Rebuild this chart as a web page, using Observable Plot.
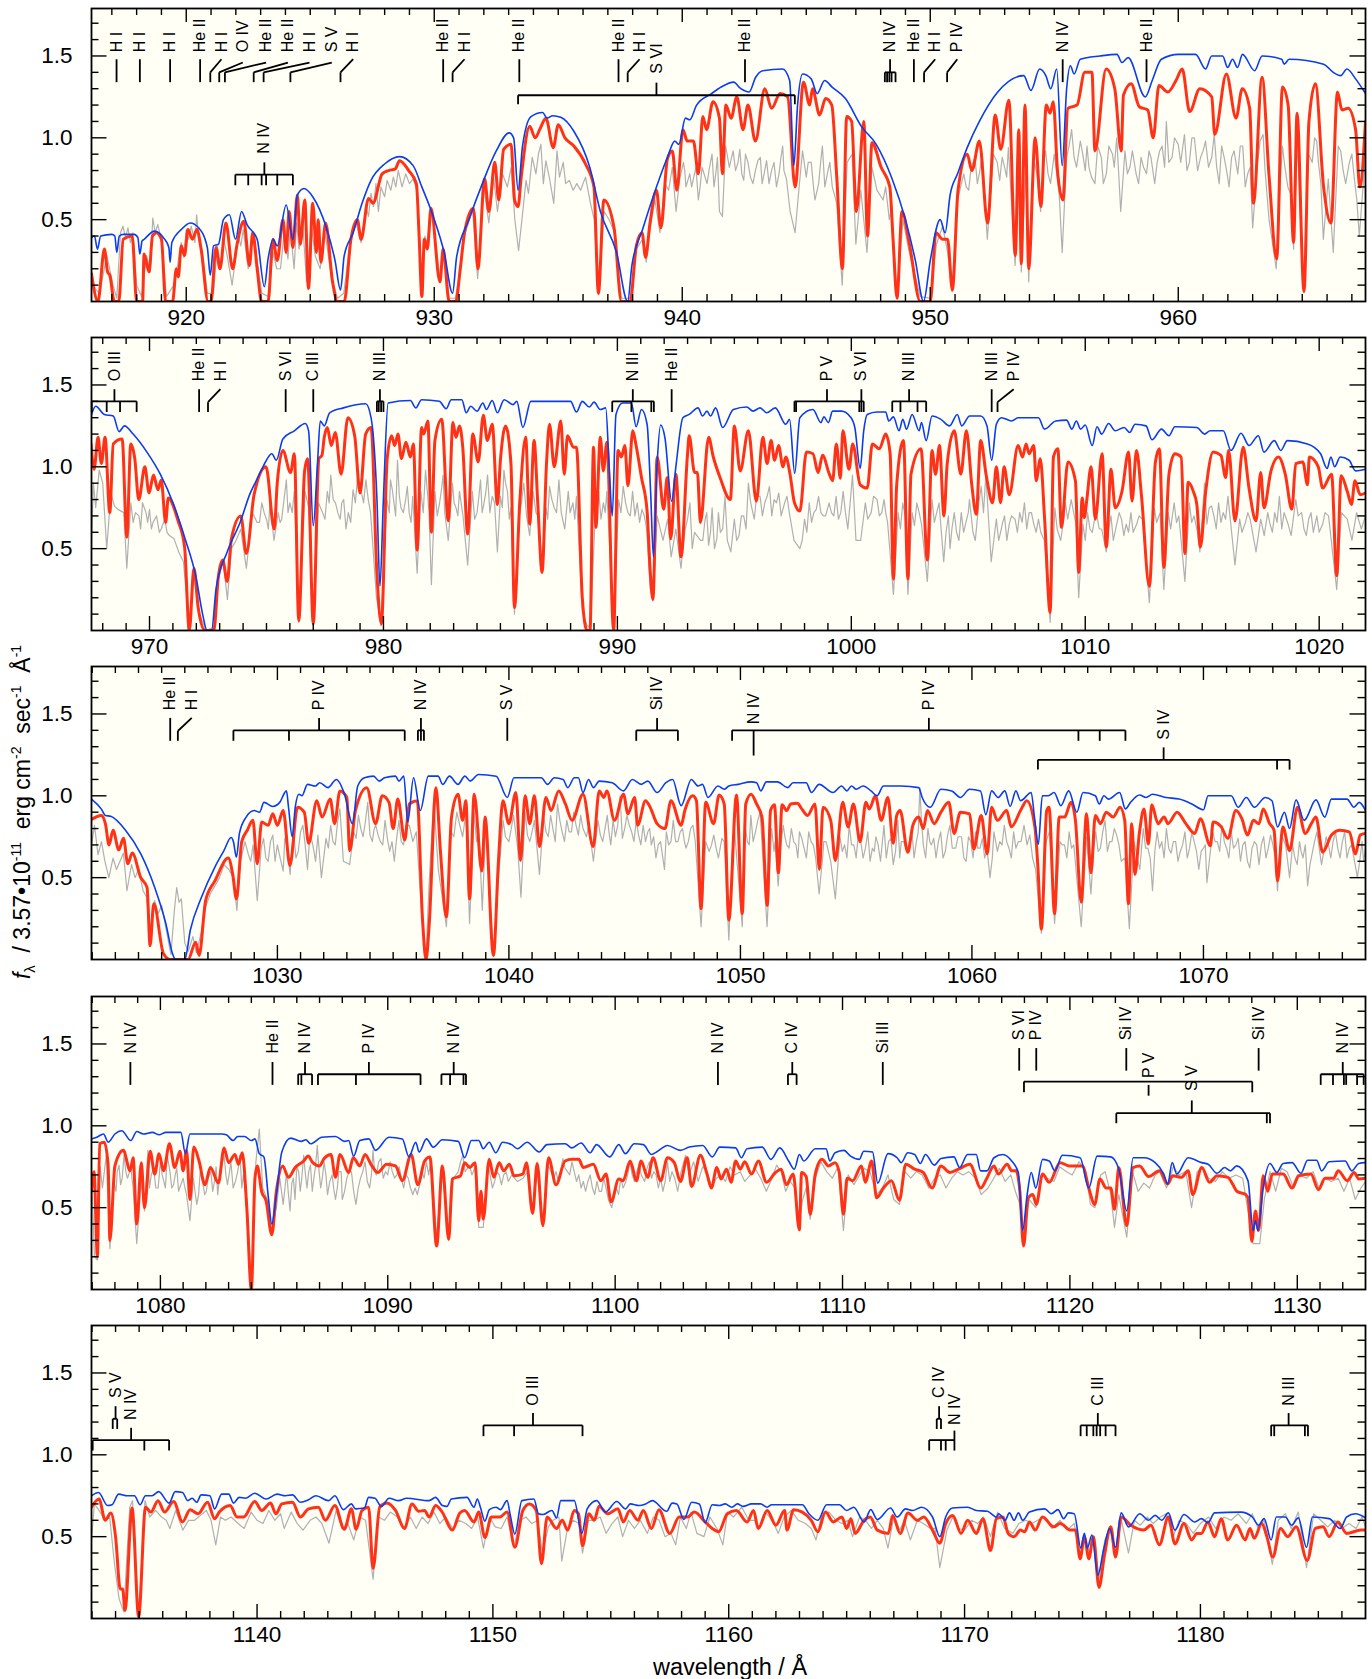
<!DOCTYPE html>
<html><head><meta charset="utf-8">
<script src="https://cdn.jsdelivr.net/npm/d3@7"></script>
<script src="https://cdn.jsdelivr.net/npm/@observablehq/plot@0.6"></script>
<style>
html,body{margin:0;padding:0;background:#fff}
#chart{position:relative;width:1372px;height:1679px;overflow:hidden;font-family:"Liberation Sans",Arial,sans-serif;color:#000}
sup,sub{font-size:14px;line-height:0}
</style></head><body><div id="chart"></div>
<script>
// flat [wavelength, flux, wavelength, flux, ...] lists
const blue1=[916.18,.39,916.3,.4,916.42,.32,916.55,.4,917,.41,917.12,.4,917.2,.3,917.3,.4,917.46,.41,917.9,.41,918.05,.39,918.13,.29,918.22,.37,918.3,.38,918.72,.43,919.08,.39,919.3,.33,919.35,.24,919.42,.36,919.8,.44,920.16,.48,920.5,.45,920.85,.33,920.97,.16,921.1,.34,921.3,.35,921.5,.5,921.74,.53,921.99,.38,922.23,.55,922.45,.47,922.86,.38,923.15,.09,923.3,.26,923.5,.38,923.67,.34,924.03,.59,924.3,.38,924.48,.65,924.75,.69,925.1,.64,925.65,.45,926,.25,926.22,.07,926.37,.28,926.73,.42,927.09,.6,927.45,.74,928,.84,928.6,.885,929.15,.83,929.5,.7,929.96,.52,930.4,.3,930.74,.05,930.9,.27,931.4,.5,931.94,.72,932.5,.92,933.02,1.03,933.2,1,933.38,.68,933.56,.95,933.9,1.13,934.37,1.155,934.55,1.12,934.78,1.135,935.1,1.125,935.63,1.04,936.27,.82,936.7,.55,937.35,.3,937.8,0,937.97,.22,938.4,.44,938.96,.7,939.4,.88,939.7,.98,939.86,.96,940.13,1.12,940.3,1.11,940.58,1.2,941.18,1.27,941.57,1.31,942.07,1.34,942.36,1.3,942.7,1.28,942.96,1.37,943.25,1.41,944.05,1.42,944.33,1.35,944.5,.83,944.65,1.2,944.85,1.39,945.2,1.36,945.44,1.27,945.74,1.35,946.04,1.31,946.58,1.24,947.22,1.07,947.82,.96,948.46,.75,949,.5,949.4,.25,949.73,0,950,.25,950.4,.5,950.6,.42,950.8,.65,951.1,.78,951.49,.94,951.98,1.1,952.72,1.28,953.77,1.38,954.06,1.29,954.41,1.42,954.66,1.38,954.86,1.3,955.1,1.42,955.32,.83,955.5,1.3,955.65,1.44,955.8,1.39,956.05,1.48,956.84,1.5,957.53,1.51,957.73,1.46,957.98,1.49,958.67,1.25,958.95,1.35,959.32,1.48,960.01,1.51,960.7,1.51,961.1,1.42,961.35,1.5,961.79,1.5,961.99,1.43,962.19,1.48,962.39,1.43,962.59,1.51,963.08,1.41,963.38,1.5,964.17,1.48,964.27,1.45,964.47,1.48,965.86,1.45,966.25,1.4,966.55,1.38,966.8,1.42,967.15,1.36,967.55,1.27];
const red1=[916.18,.17,916.44,0,916.7,.32,916.83,.18,916.92,.16,917.1,0,917.28,0,917.46,.38,917.82,.4,918,0,918.24,0,918.3,.29,918.5,.18,918.64,.4,918.8,.42,919,.38,919.17,0,919.45,0,919.6,.2,919.68,.15,919.8,.34,919.93,.28,920.07,.44,920.25,.38,920.43,.44,920.6,.32,920.88,0,921,0,921.2,.33,921.36,.2,921.6,.48,921.87,.2,922.05,.35,922.32,.49,922.55,.22,922.68,.42,922.86,.2,923.04,0,923.3,0,923.5,.38,923.67,.25,923.9,.5,924.03,.3,924.15,.55,924.3,.33,924.48,.65,924.6,.35,924.78,.62,924.93,.08,925.1,.6,925.25,.3,925.32,.5,925.43,.24,925.62,.48,925.9,.12,926.1,0,926.37,0,926.64,.38,926.9,.5,927.05,.38,927.35,.63,927.53,.6,927.9,.78,928.16,.8,928.43,.81,928.6,.86,928.97,.8,929.28,.72,929.39,.4,929.5,.03,929.6,.38,929.72,.32,929.87,.57,930.23,.12,930.36,.32,930.6,0,930.87,0,931.05,.2,931.22,.42,931.58,.57,931.76,.2,932.03,.75,932.2,.55,932.44,.85,932.6,.62,932.8,.93,933.1,.96,933.24,.62,933.38,.58,933.5,.75,933.85,1.07,934.07,1,934.28,1.06,934.5,1.12,934.8,.94,935,1.08,935.27,1,935.63,.95,936.1,.84,936.44,.7,936.62,.05,936.84,.62,937.25,.45,937.55,0,937.9,0,938.15,.34,938.38,.42,938.52,.27,938.7,.48,938.96,.68,939.14,.45,939.4,.87,939.6,.92,939.78,.68,940.03,1.05,940.2,.98,940.45,.98,940.65,.78,940.83,1.13,940.98,1.05,941.24,1.22,941.5,1.12,941.62,.78,941.76,1.2,941.97,1.12,942.2,1.25,942.45,1.05,942.65,1.2,942.95,.98,943.33,1.3,943.6,1.18,943.95,1.27,944.25,1.25,944.55,.7,944.89,1.34,945.14,1.2,945.25,1.3,945.54,1.14,945.78,1.24,946.03,1.2,946.23,.76,946.46,.2,946.63,1.13,946.83,1.1,947.02,.55,947.32,1.1,947.47,.4,947.65,.97,948.02,.82,948.37,.7,948.5,.38,948.66,.02,948.86,.55,949.16,.35,949.6,0,950,0,950.23,.42,950.5,.38,950.7,.38,950.89,.07,951.12,.68,951.49,.9,951.68,.8,951.98,.98,952.31,.48,952.62,1.14,952.84,.93,953.17,1.23,953.43,.28,953.57,1.05,953.67,.23,953.82,1.2,953.97,.2,954.23,1,954.46,.58,954.68,1.2,954.83,1.15,954.96,1.22,955.13,.8,955.35,.62,955.55,1.18,955.92,1.2,956.23,1.4,956.52,1.4,956.64,.92,957.09,1.42,957.44,1.3,957.7,.92,957.79,1.26,958.1,1.33,958.43,1.19,958.77,1.17,958.99,1,959.22,1.32,959.58,1.28,959.91,1.35,960.16,1.42,960.46,1.16,960.87,1.3,961.35,1.25,961.47,1.02,961.94,1.39,962.33,1.12,962.58,1.3,962.88,1.18,963.03,.6,963.38,1.37,963.66,.77,963.97,.26,964.2,1.31,964.43,1.2,964.65,.36,964.79,1.15,965.07,.06,965.27,1.1,965.53,1.33,965.86,.7,966.16,.48,966.42,1.28,966.6,1.17,966.85,1.18,967.15,1.05,967.32,.7,967.55,1.1];
const grey1=[916.18,.1,916.5,.05,916.8,.28,917.05,.1,917.2,.02,917.35,.42,917.45,.46,917.55,.39,917.65,.45,917.75,.36,917.85,.42,918,.1,918.2,.03,918.4,.28,918.55,.18,918.65,.51,918.75,.42,918.85,.47,919,.38,919.2,.03,919.5,.1,919.65,.22,919.8,.36,919.9,.27,920,.44,920.1,.38,920.2,.46,920.35,.36,920.42,.53,920.5,.38,920.65,.3,920.85,.05,921.1,.05,921.25,.34,921.4,.2,921.5,.39,921.65,.28,921.85,.1,922,.28,922.1,.4,922.2,.34,922.3,.44,922.5,.2,922.6,.32,922.75,.38,922.9,.2,923.05,.05,923.3,.03,923.5,.3,923.65,.2,923.8,.2,923.95,.42,924.1,.26,924.2,.45,924.35,.2,924.45,.48,924.55,.32,924.7,.47,924.85,.12,925.05,.46,925.2,.28,925.4,.2,925.6,.42,925.85,.15,926.1,.02,926.35,.05,926.6,.35,926.85,.48,927.05,.36,927.25,.58,927.35,.52,927.45,.66,927.55,.58,927.65,.72,927.75,.55,927.85,.7,928,.64,928.1,.74,928.25,.68,928.35,.76,928.45,.7,928.55,.8,928.7,.7,928.85,.78,929,.72,929.15,.75,929.3,.68,929.4,.4,929.5,.05,929.62,.4,929.75,.34,929.9,.55,930.25,.12,930.38,.3,930.6,.02,930.85,.02,931.05,.2,931.25,.42,931.55,.56,931.75,.14,932,.7,932.2,.48,932.4,.75,932.55,.55,932.75,.78,932.95,.7,933.1,.82,933.25,.5,933.4,.31,933.55,.52,933.7,.74,933.8,.66,933.95,.88,934.1,.78,934.2,.9,934.3,.96,934.4,.72,934.5,.86,934.65,.75,934.82,.6,934.95,.92,935.05,.76,935.2,.85,935.3,.72,935.45,.74,935.6,.68,935.75,.72,935.9,.68,936.1,.76,936.3,.6,936.45,.5,936.62,.04,936.85,.55,937.05,.5,937.25,.43,937.55,.02,937.9,.02,938.15,.32,938.4,.38,938.55,.24,938.7,.44,938.9,.62,939.1,.42,939.3,.72,939.45,.68,939.6,.82,939.75,.55,939.9,.75,940.05,.85,940.15,.7,940.3,.78,940.45,.75,940.65,.62,940.8,.82,941,.72,941.2,.9,941.35,.78,941.5,.55,941.62,.52,941.75,.95,941.9,.82,942.05,.92,942.25,.85,942.4,.78,942.55,.9,942.75,.76,942.95,.8,943.15,.88,943.3,.78,943.5,.72,943.7,.85,943.9,.78,944.05,.95,944.2,.75,944.35,.55,944.55,.42,944.7,.68,944.85,.92,945,.76,945.2,.85,945.35,.62,945.5,.72,945.65,.95,945.85,.78,946.05,.7,946.23,.6,946.45,.1,946.65,.85,946.85,.9,947,.35,947.2,.68,947.45,.3,947.65,.82,947.85,.68,948.1,.62,948.35,.5,948.65,.02,948.9,.5,949.15,.3,949.6,.03,950,.02,950.25,.35,950.5,.46,950.7,.3,950.88,.06,951.1,.62,951.35,.78,951.55,.68,951.8,.88,952,.8,952.3,.38,952.55,.9,952.8,.74,953,.82,953.15,.94,953.42,.22,953.6,.85,953.67,.18,953.85,.8,953.97,.12,954.2,.85,954.45,.55,954.65,.92,954.85,.72,955.1,.78,955.32,.3,955.5,.88,955.7,1.05,955.9,.82,956.15,.9,956.4,.82,956.64,.72,956.9,.88,957.1,.78,957.35,.9,957.52,1,957.68,.55,957.85,.92,958.05,.82,958.3,.78,958.5,.88,958.72,.78,958.9,.88,959.15,.85,959.35,.95,959.52,1.1,959.75,.88,960,.96,960.25,1.02,960.45,.85,960.65,1,960.9,.88,961.1,.98,961.35,.88,961.55,.82,961.75,.95,961.95,.8,962.15,.88,962.4,.78,962.6,.95,962.8,.78,963,.45,963.2,.85,963.42,1.02,963.66,.5,963.95,.2,964.2,.95,964.42,.7,964.65,.32,964.8,.98,965.05,.06,965.25,.9,965.5,1,965.65,.85,965.85,.38,966.05,.75,966.25,.3,966.45,.95,966.65,.8,966.9,.85,967.1,.75,967.3,.4,967.55,.9,
940.1,.8,940.38,.7,940.55,.82,940.72,.7,941.1,.82,941.28,.7,941.42,.88,942.15,.8,942.32,.93,942.48,.74,942.65,.85,942.85,.72,943.05,.86,943.22,.72,943.4,.86,943.6,.8,943.8,.7,943.98,.88,944.1,.8,945.08,.85,945.28,.72,945.58,.85,945.75,.7,945.95,.85,948.2,.7,948.45,.58,951.45,.7,951.65,.82,951.9,.72,952.1,.9,952.7,.85,952.9,.88,953.08,.76,954.1,.7,954.3,.78,954.55,.82,954.75,.78,955,.9,955.2,.65,955.6,.95,955.8,.88,956.05,.98,956.25,.8,956.32,.95,956.5,.76,956.75,.95,956.98,.72,957.2,.95,957.42,.82,957.95,.78,958.15,.92,958.4,.72,958.6,.82,958.82,.92,959.05,.72,959.25,.92,959.45,.82,959.62,.85,959.85,1,960.1,.85,960.35,.8,960.55,1,960.78,.8,961,.92,961.22,.82,961.45,1.02,961.65,.72,961.85,.88,962.05,.7,962.25,.92,962.5,.95,962.7,.7,962.9,.82,963.1,.65,963.3,.98,963.5,.8,964.1,.7,964.3,.82,964.55,.65,965.4,.85,965.58,.98,965.75,.72,966.55,.92,966.75,.72,967,.9,967.2,.62];

const blue2=[967.5,1.31,967.7,1.37,968.07,1.32,968.45,1.31,968.7,1.215,968.93,1.25,969.3,1.2,969.89,1.09,970.46,.955,971.03,.77,971.5,.57,971.99,.325,972.27,.1,972.46,0,972.65,0,972.85,.26,973.32,.48,973.9,.67,974.28,.83,974.56,.915,974.85,1,975.23,1.08,975.42,1.04,975.7,1.17,976.19,1.22,976.66,1.265,976.8,1.22,977,.64,977.18,1.02,977.3,1.28,977.47,1.25,977.7,1.33,978.29,1.36,979.24,1.385,979.47,1.3,979.72,.81,979.85,.27,980,.81,980.2,1.39,981.15,1.405,981.38,1.36,981.63,1.41,982.39,1.4,982.68,1.355,982.9,1.41,983.35,1.41,983.54,1.33,983.73,1.37,984,1.34,984.25,1.39,984.4,1.35,984.65,1.405,984.87,1.33,985.16,1.41,985.54,1.38,985.7,1.4,985.96,1.24,986.3,1.4,987.26,1.4,988,1.4,988.25,1.335,988.5,1.4,988.8,1.365,989,1.395,989.27,1.35,989.5,1.36,989.65,1,989.78,.7,989.94,1.32,990.22,1.39,990.6,1.39,990.8,1.245,991.03,1.35,991.27,1.26,991.42,.85,991.54,.45,991.7,1.02,991.85,1.255,992.03,1.18,992.32,.79,992.5,1,992.8,1.3,993.07,1.32,993.45,1.36,993.64,1.31,993.83,1.34,993.98,1.31,994.2,1.36,994.5,1.24,994.96,1.35,995.53,1.365,995.8,1.34,996.1,1.36,996.38,1.33,996.75,1.36,997.2,1.26,997.36,1.29,997.58,.96,997.8,1.3,998.36,1.35,998.7,1.27,998.83,1.305,999.02,1.27,999.2,1.34,999.58,1.34,999.96,1.305,1000.15,1.24,1000.38,.99,1000.53,1.22,1000.68,1.32,1001.1,1.335,1001.47,1.335,1001.6,1.28,1001.8,1.305,1002.04,1.22,1002.2,1.29,1002.36,1.23,1002.6,1.32,1002.9,1.22,1003,1.27,1003.2,1.16,1003.45,1.31,1003.83,1.29,1004.2,1.25,1004.53,1.32,1004.72,1.25,1005.06,1.31,1005.53,1.31,1005.8,1.25,1006,1.04,1006.2,1.26,1006.42,1.3,1006.85,1.28,1007.13,1.3,1008,1.3,1008.26,1.23,1008.74,1.28,1009.2,1.285,1009.43,1.23,1009.62,1.28,1009.8,1.23,1010,1.255,1010.3,1.13,1010.5,1.245,1010.7,1.2,1011,1.265,1011.28,1.22,1011.66,1.24,1011.9,1.21,1012.13,1.26,1012.6,1.25,1012.85,1.165,1013.26,1.23,1013.58,1.19,1013.83,1.245,1014.77,1.24,1015.1,1.2,1015.34,1.22,1015.9,1.22,1016.23,1.1,1016.66,1.205,1017,1.13,1017.4,1.19,1017.64,1.09,1018.08,1.16,1018.36,1.1,1018.64,1.16,1019.5,1.14,1020.06,1.08,1020.34,.99,1020.5,1.06,1020.66,1,1020.9,1.06,1021.28,1.04,1021.56,.975,1021.98,.985];
const red2=[967.5,1.14,967.63,.985,967.8,1.18,967.94,1.02,968.1,1.18,968.3,.72,968.45,1.14,968.83,1.17,969.03,.57,969.2,1.14,969.37,1.05,969.54,.8,969.8,1,969.98,.84,970.17,.95,970.36,.86,970.5,.92,970.69,.66,970.8,.81,971.22,.67,971.5,.51,971.7,0,971.9,.38,972.08,.14,972.37,0,972.75,0,972.94,.325,973.13,.43,973.32,.3,973.5,.56,973.9,.7,974.14,.47,974.47,.83,974.98,1,975.33,.62,975.46,.9,975.7,1.1,976.03,.965,976.19,1.08,976.38,.06,976.63,.975,976.76,1.05,977,.04,977.24,1.05,977.37,1.07,977.47,1.18,977.6,1.24,977.77,1.13,977.94,1.21,978.19,.955,978.48,1.3,978.77,1.19,979,.84,979.24,1.2,979.47,1.24,979.72,.35,979.91,.04,980.16,1.05,980.35,1.19,980.48,1.13,980.62,1.2,980.77,1.05,980.96,1.15,981.15,1.06,981.28,1.14,981.44,.49,981.63,1.24,981.72,1.2,981.9,1.28,982.05,.6,982.2,1.16,982.49,1.29,982.77,.67,982.97,1.27,983.1,1.18,983.25,1.25,983.39,1.12,983.6,.59,983.82,1.2,984.05,1.03,984.27,1.315,984.44,1.16,984.65,1.26,984.87,.77,985,1.04,985.22,1.25,985.45,1.02,985.6,.14,985.83,.79,986.08,1.18,986.25,.65,986.44,1.16,986.6,.77,986.78,.355,986.97,1.02,987.1,1.26,987.3,1,987.58,1.28,987.73,.955,987.87,1.19,988.12,1.12,988.25,1.12,988.5,.2,988.7,0,988.83,0,988.98,1.12,989.08,.63,989.27,1.18,989.4,.975,989.55,1.15,989.84,0,990.03,1.1,990.17,1.06,990.32,1.13,990.45,.885,990.66,1.22,990.8,1.13,991.03,.935,991.27,.73,991.4,.37,991.52,.19,991.7,1.06,991.98,.74,992.13,.935,992.28,.56,992.5,.955,992.72,.45,992.99,1.06,993.07,1.19,993.3,.965,993.42,.965,993.55,.66,993.9,1.18,994.1,1.06,994.4,.93,994.83,.8,995,1.25,995.25,.975,995.6,1.22,995.94,.79,996.22,1.18,996.4,1.02,996.57,1.16,996.72,1.04,996.89,1.13,997.08,1,997.2,1.06,997.38,.955,997.57,.78,997.8,.73,998.08,1.09,998.36,1.08,998.58,.965,998.77,1.07,999.06,.955,999.2,.915,999.36,1.14,999.53,.93,999.64,1.22,999.9,.985,1000.06,1.14,1000.38,.89,1000.68,.87,1000.9,1.14,1001.2,1.11,1001.47,1.2,1001.66,1.08,1001.8,.315,1001.94,.89,1002.23,1.16,1002.42,.315,1002.55,.955,1002.98,1.11,1003.25,.43,1003.45,1.1,1003.6,.955,1003.77,1.13,1003.96,.7,1004.1,1.02,1004.4,1.22,1004.68,.955,1004.92,1.22,1005.15,.89,1005.34,.71,1005.53,1.16,1005.77,.945,1006.04,.78,1006.2,1,1006.38,.78,1006.53,1,1006.75,.83,1007.13,1.13,1007.32,1.06,1007.47,1.14,1007.6,1.08,1007.8,1.13,1007.9,.915,1008.08,1.05,1008.26,.69,1008.5,.11,1008.64,1.06,1008.83,1.11,1008.98,.63,1009.26,1.03,1009.58,.915,1009.72,.355,1009.87,.81,1009.96,.69,1010.06,.79,1010.25,1,1010.43,.68,1010.72,1.08,1010.9,.51,1011.1,.985,1011.28,.75,1011.57,.85,1011.85,1.09,1012,.79,1012.19,1.1,1012.4,.83,1012.74,.27,1013,1.03,1013.17,1.11,1013.36,.385,1013.58,.955,1013.83,1.08,1014.1,1.06,1014.26,.47,1014.4,.905,1014.62,.85,1014.77,.77,1014.92,.51,1015.15,.85,1015.47,1.09,1015.8,1.07,1016,.935,1016.13,1.1,1016.4,.67,1016.75,1.12,1017,.87,1017.3,.67,1017.5,.965,1017.64,.75,1017.94,.975,1018.26,1.06,1018.55,.955,1018.83,.74,1019,1.02,1019.3,1.03,1019.5,.89,1019.58,1.06,1019.96,1,1020.15,.87,1020.53,.955,1020.75,.335,1020.94,.945,1021.2,.85,1021.38,.77,1021.53,.915,1021.75,.83,1021.98,.84];
const grey2=[967.5,.45,967.6,.9,967.7,.75,967.85,.98,968,.9,968.17,.5,968.35,.84,968.5,.76,968.65,.74,968.9,.72,969.03,.38,969.2,.78,969.4,.72,969.55,.7,969.7,.78,969.85,.72,970,.74,970.15,.66,970.3,.7,970.5,.62,970.65,.68,970.85,.58,971.05,.56,971.25,.48,971.45,.42,971.7,.02,971.9,.35,972.1,.12,972.4,0,972.75,.02,972.95,.32,973.15,.42,973.33,.19,973.5,.5,973.7,.55,973.9,.62,974.14,.38,974.4,.72,974.6,.66,974.8,.78,975,.68,975.15,.78,975.32,.55,975.5,.72,975.65,.68,975.85,.92,976,.78,976.19,.85,976.38,.05,976.65,.85,976.8,.75,977,.03,977.22,.78,977.4,.72,977.6,.85,977.75,.95,977.95,.78,978.15,.68,978.3,.8,978.5,.72,978.7,.86,978.9,.95,979.05,.85,979.25,.92,979.45,.72,979.7,.2,979.9,.03,980.15,.8,980.3,.92,980.45,.78,980.6,1.04,980.75,.75,980.95,.8,981.1,.72,981.25,.82,981.44,.35,981.6,.85,981.8,.98,981.95,.72,982.05,.28,982.2,.85,982.4,.78,982.55,.95,982.77,.55,982.95,.9,983.1,.75,983.25,.85,983.4,.7,983.6,.4,983.8,.85,984,.72,984.15,.92,984.3,.78,984.45,.95,984.65,.82,984.87,.48,985,.82,985.15,.98,985.3,.85,985.45,.75,985.6,.1,985.8,.7,986,.9,986.25,.58,986.4,.85,986.6,.7,986.78,.38,986.95,.75,987.1,.88,987.3,.75,987.5,.92,987.75,.62,987.9,.85,988.1,.78,988.25,.82,988.5,.12,988.7,.03,988.85,.02,989.02,.6,989.2,.85,989.4,.78,989.55,.85,989.84,.02,990.05,.8,990.25,.88,990.45,.72,990.65,.85,990.85,.78,991.05,.74,991.25,.62,991.4,.26,991.52,.18,991.7,.7,991.95,.55,992.15,.68,992.3,.45,992.5,.62,992.72,.38,992.9,.62,993.1,.78,993.3,.6,993.55,.55,993.75,.68,993.9,.52,994.05,.75,994.25,.56,994.4,.6,994.6,.82,994.85,.48,995,.68,995.2,.58,995.4,.7,995.6,.9,995.85,.68,996.1,.82,996.3,.78,996.5,.88,996.7,.8,996.9,.84,997.15,.78,997.35,.72,997.55,.55,997.8,.5,998,.68,998.2,.78,998.4,.72,998.6,.82,998.8,.7,999.05,.78,999.25,.7,999.45,.68,999.65,.85,999.85,.62,1000.05,.95,1000.2,.55,1000.4,.55,1000.6,.78,1000.85,.72,1001.1,.8,1001.3,.72,1001.47,.72,1001.8,.22,1002,.72,1002.2,.78,1002.42,.22,1002.6,.72,1002.8,.78,1003,.65,1003.25,.3,1003.45,.8,1003.65,.72,1003.95,.42,1004.15,.7,1004.3,.62,1004.5,.6,1004.7,.72,1004.9,.66,1005.05,.8,1005.3,.55,1005.55,.88,1005.75,.95,1005.98,.42,1006.2,.68,1006.38,.6,1006.55,.7,1006.75,.65,1007,.68,1007.2,.72,1007.4,.78,1007.6,.72,1007.8,.65,1008,.68,1008.25,.55,1008.5,.05,1008.7,.75,1008.95,.55,1009.15,.78,1009.4,.8,1009.6,.65,1009.72,.2,1009.9,.65,1010.1,.72,1010.3,.6,1010.5,.7,1010.7,.62,1010.9,.48,1011.1,.7,1011.3,.62,1011.55,.68,1011.75,.65,1011.95,.72,1012.2,.65,1012.45,.68,1012.74,.17,1012.95,.75,1013.2,.72,1013.36,.25,1013.55,.72,1013.8,.78,1014,.7,1014.26,.3,1014.45,.78,1014.65,.7,1014.9,.48,1015.1,.9,1015.3,.75,1015.5,.7,1015.7,.78,1015.9,.72,1016.1,.82,1016.4,.4,1016.6,.68,1016.85,.66,1017.05,.68,1017.3,.48,1017.5,.68,1017.65,.58,1017.9,.65,1018.1,.72,1018.3,.82,1018.5,.72,1018.8,.58,1019,.8,1019.25,.72,1019.45,.58,1019.65,.72,1019.9,.7,1020.15,.65,1020.4,.7,1020.75,.25,1020.95,.72,1021.2,.68,1021.4,.55,1021.6,.72,1021.8,.62,1021.98,.7,
969.3,.66,969.62,.62,969.92,.66,970.08,.62,970.42,.6,970.75,.6,974.7,.66,974.9,.72,975.08,.62,975.58,.66,975.92,.72,976.1,.72,977.5,.68,977.68,.78,977.85,.8,978.05,.72,978.22,.78,978.4,.62,978.6,.66,978.8,.78,979.15,.78,979.35,.8,980.25,.72,980.38,.86,980.52,.7,980.68,.82,980.85,.72,981.02,.88,981.18,.66,981.7,.72,982.3,.7,982.48,.86,982.62,.72,983.02,.78,983.18,.7,983.32,.78,983.9,.68,984.08,.82,984.22,.72,984.38,.85,984.55,.72,984.75,.78,985.08,.75,985.22,.9,985.38,.68,985.9,.78,986.12,.7,986.52,.72,987.02,.68,987.2,.8,987.4,.72,987.6,.72,987.98,.72,988.18,.68,989.12,.78,989.3,.68,989.48,.72,990.15,.72,990.35,.78,990.55,.7,990.75,.7,990.95,.66,991.15,.7,992.8,.5,993,.68,993.2,.5,993.65,.55,993.82,.72,993.98,.6,994.15,.5,994.32,.72,994.5,.62,994.7,.55,995.1,.55,995.3,.7,995.5,.62,995.7,.78,995.95,.82,996.2,.7,996.4,.82,996.6,.7,996.8,.78,997,.7,997.25,.82,997.9,.55,998.1,.6,998.3,.66,998.5,.74,998.7,.72,998.9,.7,999.15,.72,999.35,.82,999.55,.72,999.75,.72,999.95,.78,1000.7,.68,1000.95,.82,1001.2,.7,1001.4,.8,1001.55,.66,1002.1,.62,1002.3,.7,1002.7,.64,1002.9,.72,1003.55,.66,1003.75,.78,1004.05,.6,1004.22,.5,1004.4,.72,1004.6,.55,1004.8,.6,1005,.72,1005.2,.6,1005.45,.78,1005.65,.72,1006.3,.55,1006.47,.66,1006.65,.55,1006.85,.7,1007.1,.6,1007.3,.66,1007.5,.62,1007.7,.72,1007.9,.6,1008.1,.6,1008.8,.62,1009.05,.65,1009.25,.68,1010,.55,1010.2,.62,1010.4,.68,1010.6,.62,1010.8,.55,1011,.62,1011.2,.55,1011.45,.72,1011.65,.58,1011.85,.6,1012.05,.6,1012.3,.7,1013.05,.66,1013.65,.62,1013.9,.66,1014.55,.66,1014.8,.6,1015.2,.65,1015.4,.76,1015.6,.62,1015.8,.66,1016,.68,1016.7,.6,1016.95,.72,1017.15,.6,1017.8,.72,1018,.6,1018.2,.66,1018.4,.62,1018.65,.66,1019.1,.7,1019.35,.62,1019.55,.68,1019.75,.6,1020,.6,1020.25,.72];

const blue3=[1021.97,.98,1022.39,.92,1022.57,.88,1022.8,.875,1023.44,.79,1024.1,.645,1024.7,.44,1025.18,.22,1025.47,.035,1025.6,0,1026,0,1026.24,.18,1026.72,.38,1027.3,.565,1027.69,.665,1028,.745,1028.1,.72,1028.23,.625,1028.36,.77,1028.65,.87,1029,.91,1029.23,.9,1029.42,.96,1029.8,.935,1030.1,.96,1030.39,1.03,1030.48,.93,1030.64,.75,1030.77,.93,1030.93,1.01,1031.06,1,1031.3,1.07,1031.64,1.06,1031.83,1.08,1032.18,1.05,1032.55,1.1,1032.9,1.01,1033.24,.83,1033.47,1.06,1033.76,1.11,1034.15,1.12,1034.4,1.09,1034.63,1.11,1035.1,1.12,1035.25,1.09,1035.46,1.12,1035.63,.84,1035.88,1.11,1036.17,.91,1036.52,1.12,1036.94,1.12,1037.14,1.07,1037.43,1.12,1037.8,1.07,1038.1,1.12,1038.33,1.09,1038.68,1.13,1039.45,1.12,1039.93,.99,1040.22,1.11,1041.4,1.11,1041.67,1.07,1041.96,1.11,1042.34,1.1,1042.54,1.05,1042.83,1.11,1043,1.11,1043.2,1.02,1043.44,1.1,1043.65,1.05,1043.9,1.09,1044.46,1.08,1044.95,1.03,1045.33,1.1,1045.72,1.07,1046,1.09,1046.4,1.02,1046.78,1.08,1047.07,1.1,1047.44,.94,1047.88,1.1,1048.17,1.06,1048.36,1.07,1048.6,.99,1049.03,1.06,1049.3,1.04,1049.5,1.06,1049.9,1.07,1050.46,1.085,1050.7,1.08,1050.88,1.03,1051.12,1.085,1051.6,1.085,1052.04,1.05,1052.27,1.08,1052.84,1.08,1053.07,1.02,1053.4,1.07,1054,1.02,1054.37,1.06,1054.6,1.03,1054.8,1.06,1055,1.04,1055.3,1.06,1055.64,1.03,1055.9,1,1056.18,1.06,1056.94,1.06,1057.7,1.05,1057.85,.99,1058.2,.93,1058.66,1.04,1059.13,1.03,1059.5,.99,1059.9,1.04,1060.37,1.03,1060.6,.885,1060.85,1.03,1061.13,.99,1061.42,1.03,1061.65,.935,1061.9,1.03,1062.1,.97,1062.56,1.02,1062.7,.87,1062.87,.705,1063.04,1,1063.3,1,1063.55,1.02,1063.84,.94,1064.18,1.03,1064.53,.9,1064.8,1.02,1065.33,1,1065.5,.95,1065.7,1,1065.9,.98,1066.38,1.02,1066.63,.92,1066.85,.96,1067.24,1.005,1067.52,.99,1067.8,1.01,1068.38,.99,1068.95,.98,1069.5,.95,1070,.915,1070.2,1,1071.2,1,1071.5,.93,1071.85,.99,1072.2,.93,1072.67,.99,1072.96,.97,1073.2,.81,1073.5,.9,1073.72,.8,1074,.975,1074.35,.85,1074.86,.975,1075.24,.87,1075.53,.98,1076.2,.98,1076.5,.93,1076.73,.96,1077,.91];
const red3=[1021.97,.855,1022.39,.88,1022.57,.83,1022.73,.7,1022.9,.79,1023.15,.67,1023.35,.74,1023.54,.585,1023.73,.65,1024.1,.5,1024.37,.44,1024.5,.085,1024.66,.34,1025.08,.035,1025.37,0,1026.14,0,1026.47,.105,1026.62,.025,1026.9,.36,1027.3,.48,1027.88,.62,1028.07,.52,1028.23,.37,1028.46,.72,1028.7,.79,1028.94,.85,1029.13,.585,1029.32,.84,1029.6,.82,1029.8,.89,1030,.82,1030.25,.91,1030.54,.575,1030.87,.93,1031.16,.9,1031.35,.71,1031.7,.97,1031.93,.87,1032.28,.98,1032.47,.83,1032.7,1.03,1033,.99,1033.12,.665,1033.37,.91,1033.86,1.05,1034.24,.83,1034.53,1,1034.82,.96,1035,.8,1035.2,.98,1035.5,.73,1035.7,.95,1036.04,.97,1036.27,.24,1036.42,0,1036.56,.22,1036.85,1.05,1037.04,.665,1037.3,.26,1037.52,.87,1037.8,1.01,1038,.85,1038.14,.97,1038.3,.37,1038.5,1.01,1038.83,.54,1038.97,.87,1039.33,.025,1039.55,.605,1039.74,.97,1040,.83,1040.3,1.02,1040.5,.605,1040.7,1,1040.9,.83,1041.1,1,1041.32,.69,1041.6,.99,1041.82,.91,1042.15,1.03,1042.44,.95,1042.73,.85,1043.2,1.01,1043.64,.69,1043.9,1.03,1044.1,.99,1044.23,1.03,1044.56,.85,1044.95,1.01,1045.14,.89,1045.43,.99,1045.56,.82,1045.9,.97,1046.1,.93,1046.4,.83,1046.74,.8,1047,.97,1047.44,.82,1047.6,.91,1047.94,1,1048.1,.97,1048.3,.31,1048.5,.96,1048.84,.83,1049.08,1.005,1049.3,.95,1049.5,.24,1049.83,1.005,1050.08,.28,1050.23,.95,1050.46,1.01,1050.7,.95,1050.93,.87,1051.16,.33,1051.3,.91,1051.47,.945,1051.64,.53,1051.8,.945,1052,.91,1052.17,.95,1052.46,.955,1052.65,.92,1052.9,.88,1053.22,.95,1053.41,.55,1053.57,.93,1053.9,.85,1054.1,.605,1054.42,.96,1054.65,.81,1054.88,.95,1055.17,.72,1055.42,.96,1055.57,.92,1055.83,1,1056.08,.85,1056.37,.99,1056.6,.71,1056.75,.88,1056.9,.91,1057.23,.655,1057.45,.82,1057.7,.87,1057.9,.8,1058.08,.91,1058.37,.83,1058.66,.9,1059,.96,1059.23,.77,1059.5,.9,1059.9,.89,1060.08,.675,1060.4,.88,1060.66,.645,1060.85,.93,1061.1,.85,1061.5,.91,1061.7,.81,1062.1,.91,1062.37,.97,1062.72,.81,1062.85,.565,1063,.185,1063.23,.91,1063.33,.93,1063.57,.28,1063.77,.87,1064,.87,1064.28,.96,1064.47,.85,1064.72,.35,1064.95,.89,1065.14,.53,1065.33,.88,1065.56,.83,1065.8,.9,1066.1,.87,1066.4,.93,1066.6,.85,1066.76,.34,1066.9,.83,1067.04,.52,1067.23,.77,1067.43,.92,1067.62,.705,1067.77,.945,1068.04,.83,1068.3,.87,1068.47,.83,1068.86,.9,1069.24,.83,1069.62,.77,1069.87,.86,1070.3,.695,1070.42,.84,1070.77,.81,1071.05,.74,1071.4,.91,1071.66,.86,1071.9,.76,1072.16,.85,1072.4,.83,1072.58,.92,1072.86,.83,1073.05,.79,1073.2,.48,1073.43,.81,1073.72,.665,1074.06,.93,1074.4,.77,1074.66,.83,1074.86,.87,1075.15,.655,1075.53,.76,1075.9,.79,1076.3,.78,1076.57,.645,1076.77,.76,1077,.77];
const grey3=[1021.97,.7,1022.1,.82,1022.25,.64,1022.4,.72,1022.55,.6,1022.72,.5,1022.9,.62,1023.05,.55,1023.2,.6,1023.35,.65,1023.5,.42,1023.7,.58,1023.85,.5,1024,.55,1024.2,.42,1024.35,.38,1024.5,.12,1024.7,.36,1024.85,.28,1025,.33,1025.2,.18,1025.4,.03,1025.55,.3,1025.65,.44,1025.75,.35,1025.85,.37,1026,.1,1026.15,.05,1026.35,.14,1026.5,.04,1026.7,.16,1026.9,.32,1027.1,.4,1027.3,.45,1027.5,.5,1027.7,.58,1027.9,.55,1028.1,.5,1028.25,.3,1028.4,.6,1028.6,.72,1028.75,.64,1028.95,.7,1029.13,.36,1029.3,.68,1029.5,.62,1029.7,.72,1029.9,.6,1030,.7,1030.25,.54,1030.4,.7,1030.55,.52,1030.7,.78,1030.9,.66,1031.1,.82,1031.3,.55,1031.5,.72,1031.65,.6,1031.9,.5,1032.1,.74,1032.3,.82,1032.5,.7,1032.7,.92,1032.85,.6,1033.12,.58,1033.3,.78,1033.5,.88,1033.7,.75,1033.9,.96,1034.1,.72,1034.25,.82,1034.45,.72,1034.65,.85,1034.85,.66,1035.05,.6,1035.25,.85,1035.45,.7,1035.7,.82,1036,.78,1036.27,.2,1036.42,.02,1036.55,.45,1036.75,.98,1036.95,.55,1037.3,.2,1037.5,.78,1037.75,.9,1038,.75,1038.15,.9,1038.3,.22,1038.5,.9,1038.7,.8,1038.85,.3,1039,.82,1039.33,.02,1039.55,.5,1039.75,.85,1040,.72,1040.2,.88,1040.38,.68,1040.52,.38,1040.7,.9,1040.9,.72,1041.1,.85,1041.32,.52,1041.5,.88,1041.7,.75,1041.9,.8,1042.1,.95,1042.3,.78,1042.5,.85,1042.7,.78,1042.9,.82,1043.1,.88,1043.35,.75,1043.65,.6,1043.85,.85,1044.05,.72,1044.25,.88,1044.4,.7,1044.6,.75,1044.8,1,1045,.8,1045.2,.82,1045.4,.72,1045.6,.76,1045.8,.82,1046,.78,1046.15,.7,1046.35,.62,1046.55,.72,1046.72,.55,1046.9,.7,1047.1,.85,1047.3,.72,1047.5,.8,1047.65,.68,1047.85,.8,1048.05,.72,1048.3,.2,1048.5,.72,1048.75,.7,1048.95,.68,1049.2,.74,1049.5,.12,1049.75,.78,1050.08,.2,1050.3,.72,1050.45,.88,1050.65,.78,1050.85,.9,1051.15,.2,1051.35,.8,1051.5,.72,1051.63,.45,1051.85,.82,1052,.7,1052.2,.8,1052.4,.7,1052.55,.78,1052.75,.68,1052.95,.78,1053.15,.7,1053.4,.4,1053.6,.72,1053.8,.66,1054.1,.37,1054.3,.75,1054.5,.7,1054.7,.82,1054.9,.7,1055.1,.78,1055.3,.62,1055.5,.78,1055.7,.68,1055.85,.75,1056.05,.6,1056.2,.82,1056.4,.72,1056.6,.58,1056.8,.85,1056.95,.72,1057.2,.66,1057.4,.8,1057.6,.72,1057.75,1.05,1057.9,.7,1058.1,.8,1058.25,.7,1058.45,.62,1058.65,.78,1058.85,.66,1059.05,.82,1059.3,.68,1059.55,.75,1059.75,.6,1059.95,.72,1060.15,.78,1060.35,.68,1060.55,.62,1060.78,.5,1060.95,.78,1061.2,.72,1061.4,.82,1061.6,.68,1061.8,.78,1062,.72,1062.25,.82,1062.5,.76,1062.75,.55,1063,.16,1063.2,.72,1063.35,.78,1063.57,.22,1063.8,.72,1064,.7,1064.2,.78,1064.4,.7,1064.72,.2,1064.95,.75,1065.14,.4,1065.35,.78,1065.55,.68,1065.75,.85,1065.95,.72,1066.15,.8,1066.35,.7,1066.6,.62,1066.8,.19,1067,.72,1067.25,.55,1067.4,.8,1067.6,.68,1067.8,.42,1068,.78,1068.2,.72,1068.4,.8,1068.6,.65,1068.8,.72,1069,.66,1069.2,.78,1069.4,.68,1069.6,.72,1069.8,.55,1070,.68,1070.15,.47,1070.4,.78,1070.6,.72,1070.8,.82,1071,.68,1071.2,.78,1071.4,.7,1071.6,.6,1071.8,.72,1072,.56,1072.2,.72,1072.4,.58,1072.6,.75,1072.8,.68,1073,.7,1073.2,.42,1073.4,.75,1073.55,.7,1073.72,.5,1073.95,.62,1074.15,.72,1074.3,.62,1074.5,.45,1074.7,.65,1074.9,.78,1075.1,.58,1075.3,.75,1075.5,.62,1075.7,.78,1075.9,.62,1076.1,.78,1076.3,.68,1076.5,.62,1076.65,.5,1076.85,.72,1077,.68,
1028.85,.6,1029.4,.74,1029.6,.6,1029.8,.76,1030.12,.62,1030.32,.74,1030.62,.66,1030.8,.62,1031,.78,1031.2,.7,1031.4,.76,1031.58,.66,1031.75,.76,1032,.62,1032.2,.68,1032.4,.72,1032.6,.84,1033.4,.74,1033.6,.8,1033.8,.84,1034,.76,1034.18,.8,1034.35,.76,1034.55,.7,1034.75,.74,1034.95,.72,1035.15,.74,1035.35,.72,1035.55,.82,1035.85,.72,1037.62,.75,1037.88,.82,1038.6,.72,1039.85,.75,1040.1,.8,1040.8,.76,1041,.78,1041.6,.78,1041.8,.88,1042,.72,1042.2,.85,1042.4,.72,1042.6,.78,1042.8,.9,1043,.76,1043.2,.8,1043.45,.82,1043.95,.76,1044.15,.8,1044.32,.78,1044.5,.85,1044.7,.82,1044.9,.74,1045.1,.88,1045.3,.78,1045.5,.85,1045.7,.7,1045.9,.72,1046.08,.8,1046.25,.75,1046.45,.7,1046.62,.65,1046.8,.78,1047,.72,1047.2,.72,1047.4,.78,1047.58,.72,1047.75,.72,1047.95,.82,1048.65,.66,1048.85,.76,1049.05,.62,1049.3,.72,1049.65,.66,1050.2,.82,1050.38,.7,1050.55,.72,1050.75,.85,1051.45,.66,1051.75,.7,1051.92,.75,1052.1,.68,1052.3,.72,1052.48,.62,1052.65,.74,1052.85,.62,1053.05,.72,1053.25,.62,1053.55,.62,1053.7,.72,1053.9,.6,1054.4,.66,1054.6,.62,1054.8,.7,1055,.62,1055.2,.72,1055.4,.68,1055.6,.6,1055.78,.66,1055.95,.7,1056.12,.7,1056.3,.62,1056.5,.74,1056.7,.66,1056.88,.62,1057.05,.72,1057.3,.72,1057.5,.62,1057.68,.78,1057.82,.85,1058,.62,1058.18,.72,1058.35,.74,1058.55,.72,1058.75,.62,1058.95,.76,1059.15,.68,1059.4,.75,1059.65,.62,1059.85,.75,1060.05,.62,1060.25,.68,1060.45,.74,1060.65,.68,1060.88,.62,1061.1,.66,1061.3,.7,1061.5,.72,1061.7,.62,1061.9,.68,1062.12,.72,1062.38,.7,1062.62,.62,1063.8,.62,1063.9,.7,1064.1,.62,1064.3,.68,1065.25,.66,1065.45,.66,1065.65,.78,1065.85,.66,1066.05,.72,1066.25,.76,1066.45,.6,1067.5,.68,1067.7,.62,1067.9,.66,1068.1,.68,1068.3,.62,1068.5,.68,1068.7,.72,1068.9,.6,1069.1,.7,1069.3,.62,1069.5,.78,1069.7,.66,1069.9,.66,1070.08,.7,1070.3,.66,1070.5,.72,1070.7,.66,1070.9,.72,1071.1,.62,1071.3,.68,1071.5,.74,1071.7,.7,1071.9,.6,1072.1,.68,1072.3,.7,1072.5,.7,1072.7,.62,1072.9,.76,1073.1,.62,1073.3,.68,1073.62,.62,1073.85,.7,1074.05,.58,1074.22,.66,1074.4,.7,1074.6,.58,1074.8,.72,1075,.68,1075.2,.66,1075.4,.7,1075.6,.72,1075.8,.68,1076,.72,1076.2,.62,1076.4,.7,1076.75,.6,1076.92,.6];

const blue4=[1076.97,.92,1077.2,.93,1077.5,.95,1077.7,.9,1078,.95,1078.3,.97,1078.7,.91,1078.96,.965,1079.25,.95,1079.65,.96,1079.94,.945,1080.24,.96,1080.9,.96,1081.1,.83,1081.3,.95,1082.7,.95,1082.9,.945,1083.2,.91,1083.4,.935,1083.7,.935,1084,.91,1084.16,.92,1084.35,.83,1084.55,.81,1084.75,.56,1084.9,.4,1085.1,.58,1085.34,.84,1085.73,.925,1086.2,.905,1086.4,.915,1086.6,.89,1087.1,.93,1087.7,.935,1088.1,.905,1088.28,.91,1088.5,.815,1088.77,.91,1089.17,.92,1089.46,.85,1090.05,.93,1090.64,.92,1090.93,.81,1091.23,.9,1091.38,.84,1091.7,.92,1092,.87,1092.4,.915,1093.1,.905,1093.38,.805,1093.68,.91,1094,.91,1094.2,.86,1094.46,.9,1094.75,.835,1095.05,.9,1095.45,.885,1095.7,.86,1096.13,.9,1096.66,.84,1097,.885,1097.8,.89,1098.1,.865,1098.5,.895,1098.9,.835,1099.18,.885,1099.76,.81,1100.16,.885,1100.45,.83,1100.84,.89,1101.24,.885,1101.6,.825,1101.82,.84,1102.3,.88,1102.87,.85,1103.26,.87,1103.85,.88,1104.27,.81,1104.6,.87,1105.3,.865,1105.55,.805,1105.8,.86,1106.47,.87,1106.85,.795,1107.24,.865,1107.63,.785,1107.88,.735,1108.1,.825,1108.3,.785,1108.8,.86,1109.28,.86,1109.44,.785,1109.67,.835,1110.06,.85,1110.35,.815,1110.74,.795,1110.93,.845,1111.32,.84,1111.55,.65,1112,.83,1112.4,.805,1112.58,.775,1112.87,.835,1113.17,.825,1113.42,.77,1113.65,.825,1114.04,.76,1114.33,.8,1114.9,.81,1115.15,.745,1115.5,.825,1115.88,.825,1116.07,.725,1116.35,.725,1116.66,.805,1117.05,.825,1117.44,.785,1117.73,.715,1117.92,.36,1118.12,.58,1118.3,.715,1118.5,.62,1118.8,.795,1119.09,.785,1119.34,.725,1119.67,.82,1120.45,.805,1120.83,.62,1121.2,.815,1121.8,.81,1122.15,.735,1122.5,.48,1122.78,.805,1123.26,.805,1123.75,.775,1124.13,.705,1124.3,.645,1124.5,.775,1124.7,.705,1125.2,.805,1125.8,.775,1126.08,.765,1126.47,.71,1126.8,.745,1127.05,.725,1127.34,.755,1127.83,.665,1128.06,.36,1128.16,.42,1128.27,.36,1128.5,.62,1128.8,.77,1129.1,.715,1129.38,.77,1129.77,.775,1130.16,.71,1130.45,.79,1130.85,.79,1131.07,.725,1131.4,.78,1132.1,.785,1132.4,.725,1132.7,.77,1133,.775];
const red4=[1076.97,.6,1077.08,.72,1077.23,.2,1077.33,.89,1077.53,.9,1077.7,.765,1077.78,.3,1078,.755,1078.37,.85,1078.67,.725,1078.8,.805,1078.96,.4,1079.16,.775,1079.3,.5,1079.55,.845,1079.75,.705,1079.94,.83,1080.14,.725,1080.4,.89,1080.63,.745,1080.86,.845,1081,.725,1081.15,.85,1081.3,.55,1081.47,.87,1081.7,.785,1081.96,.64,1082.2,.745,1082.55,.65,1082.8,.865,1083,.775,1083.28,.825,1083.43,.765,1083.6,.835,1083.8,.5,1084,0,1084.16,.68,1084.26,.755,1084.45,.6,1084.65,.54,1084.9,.335,1085.1,.6,1085.38,.755,1085.63,.685,1085.93,.745,1086.3,.785,1086.5,.815,1086.7,.775,1087,.755,1087.2,.8,1087.5,.825,1087.7,.685,1087.9,.825,1088.28,.715,1088.48,.805,1088.77,.755,1089,.825,1089.26,.765,1089.56,.715,1089.95,.765,1090.34,.755,1090.64,.665,1091.03,.825,1091.32,.64,1091.62,.785,1091.85,.81,1092.15,.265,1092.4,.755,1092.68,.305,1092.84,.675,1093.2,.695,1093.38,.775,1093.6,.745,1093.84,.775,1094,.42,1094.1,.6,1094.2,.43,1094.46,.795,1094.66,.685,1094.9,.775,1095.1,.725,1095.35,.765,1095.55,.695,1095.94,.705,1096.1,.775,1096.37,.465,1096.57,.77,1096.82,.39,1097.07,.805,1097.4,.64,1097.8,.785,1098.1,.795,1098.4,.795,1098.6,.745,1099.04,.765,1099.37,.665,1099.6,.705,1099.82,.535,1100.16,.675,1100.35,.665,1100.66,.785,1100.94,.665,1101.14,.785,1101.43,.685,1101.67,.805,1102,.665,1102.3,.805,1102.6,.775,1102.87,.66,1103.17,.805,1103.36,.63,1103.75,.82,1104.04,.705,1104.23,.62,1104.47,.745,1104.66,.675,1104.9,.735,1105.1,.655,1105.3,.785,1105.5,.735,1105.7,.78,1106,.705,1106.3,.785,1106.66,.655,1107.05,.715,1107.3,.735,1107.53,.64,1107.83,.705,1108.1,.365,1108.2,.715,1108.4,.69,1108.58,.46,1108.8,.705,1109.1,.795,1109.38,.755,1109.67,.775,1109.85,.72,1110.04,.46,1110.2,.68,1110.45,.665,1110.83,.755,1111,.655,1111.28,.785,1111.5,.56,1111.8,.62,1112.15,.665,1112.5,.545,1112.78,.765,1113.17,.735,1113.55,.715,1113.94,.62,1114.33,.755,1114.72,.715,1115.1,.735,1115.6,.765,1116.08,.62,1116.33,.675,1116.66,.755,1116.85,.705,1117.24,.765,1117.44,.725,1117.63,.725,1117.8,.6,1117.96,.265,1118.17,.56,1118.37,.58,1118.52,.52,1118.8,.705,1119.09,.655,1119.57,.775,1119.96,.755,1120.55,.755,1120.83,.62,1121.09,.52,1121.32,.675,1121.6,.62,1121.8,.62,1121.96,.49,1122.15,.745,1122.5,.39,1122.78,.745,1123.07,.755,1123.46,.69,1123.94,.725,1124.3,.645,1124.52,.695,1124.9,.685,1125.2,.725,1125.4,.58,1125.8,.745,1126.14,.655,1126.47,.695,1126.95,.685,1127.15,.645,1127.34,.6,1127.73,.58,1127.83,.56,1128,.295,1128.16,.48,1128.3,.36,1128.5,.695,1128.7,.6,1128.9,.705,1129.38,.705,1129.77,.62,1130.06,.695,1130.6,.705,1130.93,.61,1131.22,.68,1131.6,.68,1131.8,.725,1132.2,.665,1132.5,.715,1132.7,.675,1133,.68];
const grey4=[1076.97,.72,1077.1,.2,1077.23,.18,1077.35,.75,1077.5,.68,1077.62,.82,1077.78,.25,1077.95,.66,1078.1,.72,1078.25,.64,1078.4,.82,1078.55,.68,1078.7,.74,1078.8,.62,1078.96,.28,1079.15,.66,1079.3,.48,1079.45,.85,1079.6,.7,1079.8,.62,1080,.78,1080.15,.66,1080.3,.82,1080.5,.62,1080.65,.7,1080.8,.6,1081,.68,1081.15,.58,1081.3,.42,1081.45,.68,1081.6,.52,1081.75,.72,1081.95,.58,1082.1,.68,1082.3,.6,1082.45,.75,1082.6,.68,1082.8,.82,1082.95,.64,1083.1,.78,1083.3,.66,1083.5,.82,1083.65,.7,1083.8,.55,1084,.02,1084.2,.78,1084.35,.98,1084.5,.62,1084.7,.55,1084.9,.36,1085.1,.5,1085.25,.68,1085.4,.52,1085.55,.72,1085.7,.48,1085.85,.68,1086,.75,1086.15,.6,1086.3,.82,1086.45,.62,1086.6,.76,1086.75,.68,1086.9,.88,1087.05,.62,1087.2,.78,1087.35,.58,1087.55,.7,1087.7,.55,1087.85,.72,1088,.55,1088.2,.68,1088.4,.72,1088.6,.52,1088.8,.68,1089,.78,1089.2,.62,1089.35,.85,1089.5,.7,1089.7,.8,1089.9,.72,1090.1,.78,1090.3,.68,1090.5,.75,1090.7,.62,1090.9,.68,1091.1,.58,1091.3,.58,1091.5,.72,1091.7,.78,1091.9,.8,1092.15,.32,1092.4,.72,1092.68,.34,1092.9,.68,1093.1,.72,1093.3,.82,1093.5,.74,1093.7,.7,1093.85,.75,1094,.38,1094.2,.38,1094.4,.76,1094.6,.62,1094.8,.72,1095,.64,1095.2,.72,1095.45,.7,1095.7,.66,1095.95,.68,1096.15,.72,1096.37,.48,1096.57,.72,1096.82,.4,1097.05,.76,1097.3,.68,1097.5,.66,1097.7,.8,1097.9,.72,1098.1,.78,1098.3,.66,1098.5,.62,1098.7,.6,1098.9,.7,1099.1,.58,1099.3,.6,1099.5,.68,1099.7,.55,1099.85,.5,1100.05,.62,1100.25,.68,1100.45,.65,1100.65,.78,1100.85,.66,1101.05,.76,1101.3,.66,1101.5,.78,1101.7,.72,1101.9,.62,1102.1,.6,1102.3,.78,1102.5,.72,1102.75,.6,1102.9,.72,1103.1,.82,1103.25,.7,1103.45,.78,1103.65,.66,1103.85,.75,1104.05,.72,1104.25,.62,1104.45,.68,1104.65,.7,1104.85,.66,1105.05,.75,1105.25,.7,1105.5,.72,1105.7,.66,1105.95,.7,1106.15,.74,1106.4,.68,1106.65,.6,1106.9,.68,1107.1,.76,1107.3,.72,1107.5,.6,1107.7,.66,1107.9,.62,1108.1,.42,1108.25,.55,1108.4,.62,1108.58,.43,1108.8,.68,1109.05,.78,1109.3,.72,1109.55,.68,1109.8,.75,1110.04,.36,1110.25,.7,1110.5,.64,1110.75,.7,1110.95,.74,1111.2,.72,1111.5,.58,1111.75,.62,1112,.7,1112.25,.55,1112.5,.52,1112.75,.72,1113,.68,1113.25,.72,1113.5,.7,1113.8,.62,1114.05,.68,1114.3,.7,1114.55,.62,1114.8,.68,1115.05,.72,1115.3,.7,1115.55,.72,1115.85,.68,1116.1,.58,1116.4,.62,1116.65,.68,1116.9,.74,1117.15,.66,1117.4,.7,1117.6,.6,1117.8,.52,1117.96,.3,1118.2,.55,1118.5,.5,1118.75,.7,1119,.68,1119.3,.66,1119.55,.75,1119.85,.72,1120.1,.7,1120.4,.78,1120.7,.72,1120.9,.52,1121.1,.5,1121.35,.7,1121.55,.72,1121.8,.58,1121.96,.38,1122.15,.58,1122.5,.32,1122.75,.72,1123,.6,1123.25,.65,1123.5,.62,1123.75,.7,1123.95,.72,1124.25,.62,1124.55,.75,1124.8,.7,1125.1,.72,1125.35,.5,1125.6,.72,1125.85,.74,1126.1,.68,1126.4,.66,1126.7,.72,1127,.68,1127.3,.7,1127.6,.68,1127.9,.42,1128.05,.28,1128.35,.28,1128.55,.55,1128.8,.72,1129.05,.6,1129.3,.74,1129.55,.72,1129.85,.62,1130.1,.7,1130.4,.68,1130.7,.72,1130.95,.62,1131.2,.68,1131.5,.66,1131.8,.68,1132.05,.6,1132.3,.68,1132.55,.55,1132.8,.62,1133,.66,
1077.45,.62,1077.56,.75,1078.05,.6,1078.18,.76,1078.32,.68,1078.48,.72,1079.52,.62,1079.7,.74,1079.9,.62,1080.08,.7,1080.22,.62,1080.42,.72,1080.58,.64,1080.72,.74,1081.08,.62,1081.52,.6,1081.68,.58,1081.85,.66,1082.02,.6,1082.22,.72,1082.38,.66,1082.52,.58,1082.7,.75,1082.88,.7,1083.02,.7,1083.2,.62,1083.4,.72,1083.58,.62,1085.48,.62,1085.62,.6,1085.78,.65,1085.92,.55,1086.08,.72,1086.22,.68,1086.38,.7,1086.52,.72,1086.68,.6,1086.82,.75,1086.98,.72,1087.12,.68,1087.28,.7,1087.45,.66,1087.62,.62,1087.78,.62,1087.95,.72,1088.1,.6,1088.3,.72,1088.5,.6,1088.7,.62,1088.9,.72,1089.1,.66,1089.28,.7,1089.42,.72,1089.6,.78,1089.8,.68,1090,.7,1090.2,.72,1090.4,.7,1090.6,.68,1090.8,.7,1091,.62,1091.2,.62,1091.4,.64,1091.6,.68,1091.8,.7,1093,.7,1093.2,.78,1093.4,.72,1093.6,.76,1094.5,.7,1094.7,.66,1094.9,.7,1095.1,.7,1095.3,.66,1097.4,.72,1097.6,.72,1097.8,.74,1098,.7,1098.2,.72,1098.4,.7,1098.6,.66,1098.8,.66,1099,.62,1099.2,.66,1099.4,.6,1099.6,.62,1100.15,.58,1100.35,.62,1100.55,.7,1100.75,.7,1100.95,.72,1101.15,.7,1101.4,.74,1101.6,.68,1101.8,.7,1102,.68,1102.2,.66,1102.4,.66,1102.62,.68];

const blue5=[1132.98,.75,1133.28,.77,1133.66,.69,1133.85,.695,1134.13,.76,1134.5,.75,1134.8,.75,1135.04,.695,1135.27,.75,1135.55,.75,1135.83,.775,1136.27,.705,1136.53,.775,1136.84,.77,1137.06,.72,1137.25,.735,1137.44,.71,1137.63,.755,1138,.75,1138.2,.67,1138.5,.76,1138.8,.76,1139,.705,1139.24,.74,1139.52,.735,1139.9,.765,1140.38,.73,1140.85,.76,1141.2,.75,1141.5,.755,1141.84,.71,1142.18,.725,1142.5,.75,1143.03,.72,1143.3,.75,1143.66,.665,1144,.7,1144.17,.67,1144.55,.675,1144.73,.74,1145,.735,1145.27,.685,1145.6,.735,1146,.72,1146.34,.735,1147.3,.72,1147.57,.74,1147.86,.69,1148.05,.685,1148.24,.73,1148.9,.74,1149.2,.68,1149.34,.73,1149.47,.68,1149.66,.595,1149.85,.665,1150.13,.68,1150.32,.665,1150.6,.72,1150.74,.63,1150.93,.515,1151.23,.72,1151.74,.73,1151.93,.64,1152.12,.635,1152.5,.66,1152.7,.615,1152.88,.72,1153.45,.72,1153.77,.52,1154,.67,1154.4,.72,1154.77,.65,1155.25,.715,1155.63,.67,1155.82,.7,1156.2,.69,1156.48,.7,1156.76,.72,1157.37,.655,1157.6,.705,1157.8,.7,1158.1,.605,1158.43,.71,1158.75,.7,1159,.585,1159.3,.695,1159.6,.69,1159.85,.7,1160.13,.68,1160.37,.7,1160.6,.685,1160.97,.7,1161.35,.7,1161.63,.68,1161.82,.695,1162.1,.695,1163.12,.695,1163.4,.64,1163.78,.6,1164.15,.695,1164.7,.695,1164.99,.66,1165.3,.68,1165.74,.59,1166.02,.665,1166.3,.605,1166.86,.675,1167.14,.62,1167.5,.67,1167.8,.66,1168.17,.68,1168.64,.62,1168.95,.5,1169.2,.62,1169.48,.675,1170.13,.68,1170.5,.66,1170.97,.655,1171.35,.62,1171.45,.64,1171.72,.6,1171.9,.645,1172.1,.6,1172.28,.645,1172.47,.6,1172.75,.65,1173.4,.67,1173.68,.64,1173.96,.665,1174.2,.61,1174.4,.645,1174.65,.64,1174.93,.43,1175.08,.52,1175.2,.43,1175.4,.51,1175.65,.265,1175.9,.425,1176.15,.55,1176.4,.435,1176.64,.645,1176.95,.56,1177.43,.64,1177.8,.6,1178.08,.63,1178.36,.6,1178.64,.645,1178.92,.54,1179.3,.635,1179.76,.59,1180.04,.61,1180.32,.585,1180.6,.645,1181.72,.65,1182.2,.62,1182.47,.57,1182.7,.61,1183,.48,1183.22,.62,1183.6,.62,1183.87,.57,1184.15,.615,1184.5,.435,1184.75,.62,1185.46,.61,1185.93,.55,1186.2,.62,1186.58,.64,1187,.615];
const red5=[1132.98,.68,1133.3,.73,1133.56,.6,1133.8,.645,1134,.5,1134.2,.18,1134.3,.18,1134.4,.05,1134.7,.675,1134.98,.01,1135.27,.68,1135.5,.65,1135.8,.72,1136.08,.65,1136.46,.715,1136.84,.59,1137.16,.665,1137.5,.64,1137.9,.71,1138.2,.61,1138.4,.65,1138.86,.69,1139.15,.62,1139.43,.62,1139.9,.715,1140.2,.66,1140.57,.705,1140.8,.64,1141.05,.7,1141.5,.71,1141.84,.62,1142.18,.67,1142.6,.68,1142.9,.6,1143.3,.69,1143.7,.545,1144,.67,1144.2,.545,1144.45,.66,1144.73,.68,1144.92,.305,1145.2,.68,1145.5,.705,1145.87,.66,1146.25,.55,1146.57,.7,1146.85,.655,1147.1,.66,1147.3,.62,1147.57,.69,1147.85,.65,1148.28,.54,1148.6,.645,1148.8,.66,1149.2,.59,1149.4,.65,1149.66,.495,1149.94,.62,1150.3,.62,1150.6,.65,1150.93,.435,1151.27,.66,1151.55,.7,1151.84,.66,1152.06,.335,1152.3,.62,1152.7,.55,1152.94,.6,1153.17,.54,1153.45,.66,1153.63,.64,1153.8,.445,1154.07,.64,1154.3,.6,1154.5,.685,1154.87,.64,1155.3,.67,1155.53,.59,1155.8,.66,1156.15,.6,1156.38,.66,1156.72,.55,1157.04,.665,1157.5,.52,1157.9,.62,1158.26,.62,1158.54,.65,1159,.59,1159.3,.55,1159.57,.53,1159.94,.64,1160.32,.66,1160.78,.59,1161.05,.66,1161.25,.55,1161.63,.66,1162,.57,1162.37,.66,1162.47,.54,1162.75,.665,1163.12,.65,1163.5,.6,1163.78,.53,1164.1,.65,1164.43,.59,1164.8,.62,1165,.55,1165.18,.61,1165.36,.52,1165.74,.6,1166,.62,1166.3,.54,1166.77,.52,1166.95,.63,1167.27,.52,1167.6,.645,1168,.6,1168.27,.62,1168.64,.54,1168.95,.46,1169.2,.58,1169.5,.63,1169.85,.52,1170.13,.6,1170.5,.52,1170.78,.61,1171.1,.415,1171.35,.61,1171.63,.62,1171.85,.52,1172.1,.5,1172.37,.54,1172.55,.53,1172.75,.59,1173,.54,1173.3,.62,1173.78,.56,1174.05,.58,1174.5,.54,1174.7,.54,1174.9,.365,1175.08,.5,1175.27,.365,1175.46,.5,1175.7,.19,1175.93,.385,1176.2,.56,1176.4,.375,1176.64,.62,1177.05,.57,1177.6,.54,1177.9,.57,1178.26,.45,1178.64,.62,1178.92,.455,1179.3,.58,1179.63,.48,1179.85,.52,1180.04,.52,1180.32,.59,1180.6,.5,1180.88,.61,1181.16,.48,1181.53,.57,1181.9,.48,1182.1,.55,1182.28,.49,1182.6,.58,1182.82,.5,1183.07,.375,1183.4,.55,1183.7,.5,1184.06,.56,1184.53,.355,1184.87,.55,1185.2,.56,1185.46,.5,1185.83,.59,1186.2,.52,1186.8,.54,1187,.54];
const grey5=[1132.98,.48,1133.1,.7,1133.3,.66,1133.55,.6,1133.75,.62,1133.95,.34,1134.15,.12,1134.35,.04,1134.6,.68,1134.72,.72,1134.98,.01,1135.25,.72,1135.45,.62,1135.7,.66,1135.95,.62,1136.15,.6,1136.3,.55,1136.55,.66,1136.85,.54,1137.1,.6,1137.35,.6,1137.6,.63,1137.85,.66,1138.05,.6,1138.25,.45,1138.45,.62,1138.65,.6,1138.9,.62,1139.2,.58,1139.45,.55,1139.75,.65,1140,.6,1140.25,.58,1140.5,.66,1140.75,.6,1141,.64,1141.15,.55,1141.45,.65,1141.7,.58,1141.95,.54,1142.25,.6,1142.5,.62,1142.75,.58,1143.05,.46,1143.35,.66,1143.6,.55,1143.85,.58,1144.1,.48,1144.35,.62,1144.6,.6,1144.92,.24,1145.15,.62,1145.4,.6,1145.65,.65,1145.95,.62,1146.2,.55,1146.5,.62,1146.75,.55,1147,.62,1147.25,.58,1147.5,.65,1147.75,.58,1148,.62,1148.3,.55,1148.55,.6,1148.85,.58,1149.1,.55,1149.35,.62,1149.6,.43,1149.85,.62,1150.1,.56,1150.35,.55,1150.6,.62,1150.9,.44,1151.15,.6,1151.4,.62,1151.65,.58,1151.9,.6,1152.1,.4,1152.35,.56,1152.55,.6,1152.8,.62,1152.92,.35,1153.15,.54,1153.4,.6,1153.65,.58,1153.8,.4,1154.05,.6,1154.3,.6,1154.55,.62,1154.8,.52,1155.05,.58,1155.3,.62,1155.5,.5,1155.75,.6,1156,.55,1156.25,.6,1156.55,.52,1156.8,.62,1157.05,.6,1157.3,.5,1157.55,.52,1157.75,.45,1157.95,.62,1158.2,.55,1158.4,.65,1158.65,.52,1158.95,.5,1159.2,.62,1159.5,.55,1159.75,.45,1159.95,.65,1160.2,.62,1160.55,.68,1160.85,.6,1161.1,.6,1161.3,.55,1161.55,.65,1161.85,.6,1162.1,.52,1162.35,.62,1162.65,.66,1162.95,.6,1163.25,.58,1163.5,.55,1163.7,.48,1163.95,.64,1164.25,.65,1164.55,.6,1164.8,.58,1165.05,.6,1165.25,.5,1165.55,.62,1165.8,.6,1166.05,.55,1166.3,.6,1166.55,.55,1166.75,.43,1167,.62,1167.25,.54,1167.45,.6,1167.7,.48,1168,.6,1168.25,.58,1168.55,.55,1168.75,.55,1168.95,.31,1169.25,.54,1169.5,.62,1169.75,.55,1170,.54,1170.3,.6,1170.55,.58,1170.8,.62,1171.1,.5,1171.4,.65,1171.7,.55,1172.05,.52,1172.3,.58,1172.6,.6,1172.85,.58,1173.1,.6,1173.4,.62,1173.7,.55,1174.05,.6,1174.35,.54,1174.65,.58,1174.9,.38,1175.1,.5,1175.3,.4,1175.5,.5,1175.7,.24,1175.95,.48,1176.15,.55,1176.4,.38,1176.65,.6,1176.95,.4,1177.2,.6,1177.45,.57,1177.75,.62,1178,.58,1178.3,.62,1178.55,.64,1178.85,.5,1179.1,.6,1179.4,.58,1179.7,.52,1180,.58,1180.35,.62,1180.65,.55,1181,.62,1181.3,.6,1181.6,.64,1181.95,.58,1182.2,.64,1182.45,.55,1182.7,.6,1183.05,.33,1183.3,.6,1183.6,.64,1183.85,.55,1184.15,.65,1184.5,.31,1184.8,.64,1185.1,.6,1185.4,.56,1185.7,.6,1186,.55,1186.3,.58,1186.6,.55,1186.85,.62,1187,.56];

// line identifications: label, label wavelength, foot wavelengths, fluxes of label base / stem top / bracket / foot
const ids1=[
["H I",917.19,[917.19],1.51,1.48,null,1.34],["H I",918.13,[918.13],1.51,1.48,null,1.34],["H I",919.35,[919.35],1.51,1.48,null,1.34],
["He II",920.56,[920.56],1.51,1.48,null,1.34],["H I",921.42,[920.97],1.51,1.48,null,1.34],["O IV",922.28,[921.33],1.51,1.46,null,1.34],
["He II",923.22,[921.56],1.51,1.46,null,1.34],["He II",924.1,[922.72],1.51,1.46,null,1.34],["H I",924.97,[923.12],1.51,1.46,null,1.34],
["S V",925.87,[924.2],1.51,1.46,null,1.34],["H I",926.73,[926.22],1.51,1.48,null,1.34],["He II",930.36,[930.36],1.51,1.48,null,1.34],
["H I",931.22,[930.74],1.51,1.48,null,1.34],["He II",933.43,[933.43],1.51,1.48,null,1.34],["He II",937.43,[937.43],1.51,1.48,null,1.34],
["H I",938.28,[937.8],1.51,1.48,null,1.34],["S VI",938.96,[933.38,944.54],1.38,1.337,1.26,1.205],
["N IV",923.15,[921.98,922.5,923.04,923.22,923.67,924.3],.89,.85,.775,.71],
["He II",942.53,[942.53],1.51,1.48,null,1.34],["N IV",948.38,[948.17,948.26,948.35,948.44,948.6],1.51,1.48,1.4,1.34],
["He II",949.34,[949.34],1.51,1.48,null,1.34],["H I",950.2,[949.75],1.51,1.48,null,1.34],["P IV",951.09,[950.68],1.51,1.48,null,1.34],
["N IV",955.34,[955.34],1.51,1.48,null,1.34],["He II",958.72,[958.72],1.51,1.48,null,1.34]];
const ids2=[
["O III",968.5,[967.53,968.17,968.74,969.45],1.51,1.474,1.4,1.335],["He II",972.12,[972.12],1.51,1.474,null,1.335],["H I",973.03,[972.5],1.51,1.474,null,1.335],
["S VI",975.82,[975.82],1.51,1.474,null,1.335],["C III",977,[977],1.51,1.474,null,1.335],["N III",979.85,[979.72,979.8,979.9,980],1.51,1.474,1.4,1.335],
["N III",990.66,[989.78,990.6,991.45,991.56],1.51,1.474,1.4,1.335],["He II",992.32,[992.32],1.51,1.474,null,1.335],
["P V",998.96,[997.57,997.64,1000.34,1000.53],1.51,1.474,1.4,1.335],["S VI",1000.43,[1000.43],1.51,1.474,null,1.335],
["N III",1002.47,[1001.75,1002.1,1002.83,1003.2],1.51,1.474,1.4,1.335],["N III",1006,[1006],1.51,1.474,null,1.335],["P IV",1006.94,[1006.25],1.51,1.474,null,1.335]];
const ids3=[
["He II",1025.37,[1025.37],1.51,1.476,null,1.336],["H I",1026.3,[1025.7],1.51,1.476,null,1.336],
["P IV",1031.8,[1028.1,1030.5,1033.1,1035.5],1.51,1.476,1.4,1.336],["N IV",1036.2,[1036.07,1036.2,1036.33],1.51,1.476,1.4,1.336],
["S V",1039.93,[1039.93],1.51,1.476,null,1.336],["Si IV",1046.4,[1045.5,1047.3],1.51,1.476,1.4,1.336],
["P IV",1058.14,[1049.64,1064.6,1065.52,1066.63],1.51,1.476,1.4,1.336],["N IV",1050.57,[1050.57],1.425,1.4,null,1.246],
["S IV",1068.28,[1062.85,1073.18,1073.72],1.33,1.296,1.22,1.16]];
const ids4=[
["N IV",1078.68,[1078.68],1.43,1.39,null,1.25],["He II",1084.93,[1084.93],1.43,1.39,null,1.25],["N IV",1086.36,[1086.06,1086.2,1086.67],1.43,1.39,1.315,1.25],
["P IV",1089.17,[1086.93,1088.6,1091.44],1.43,1.39,1.315,1.25],["N IV",1092.9,[1092.36,1092.74,1093.33,1093.44],1.43,1.39,1.315,1.25],
["N IV",1104.52,[1104.52],1.43,1.39,null,1.25],["C IV",1107.79,[1107.6,1107.98],1.43,1.39,1.315,1.25],["Si III",1111.77,[1111.77],1.43,1.39,null,1.25],
["S VI",1117.77,[1117.77],1.51,1.475,null,1.337],["P IV",1118.52,[1118.52],1.51,1.475,null,1.337],["Si IV",1122.48,[1122.48],1.51,1.475,null,1.337],["Si IV",1128.3,[1128.3],1.51,1.475,null,1.337],
["",1123,[1117.98,1128.02],1.3,1.27,1.27,1.205],["P V",1123.46,[1123.46],1.28,1.25,null,1.184],
["S V",1125.36,[1122.04,1128.66,1128.8],1.2,1.155,1.077,1.016],["N IV",1132,[1131.03,1131.57,1132.05,1132.15,1132.63,1132.92],1.43,1.39,1.315,1.25]];
const ids5=[
["S V",1134,[1133.88,1134.07],1.335,1.297,1.22,1.158],["N IV",1134.66,[1133.03,1135.22,1136.27],1.2,1.165,1.09,1.026],
["O III",1151.7,[1149.6,1150.9,1153.8],1.287,1.255,1.18,1.114],["C IV",1168.92,[1168.82,1169],1.335,1.297,1.22,1.158],
["N IV",1169.57,[1168.5,1169,1169.2,1169.57],1.17,1.148,1.09,1.026],["C III",1175.65,[1174.92,1175.18,1175.46,1175.6,1175.75,1175.98,1176.4],1.287,1.255,1.18,1.114],
["N III",1183.74,[1183,1183.13,1184.43,1184.56],1.287,1.255,1.18,1.114]];

const panels=[
 {dom:[916.18,967.55],top:7.7,blue:blue1,red:red1,grey:grey1,ids:ids1,labels:[920,930,940,950,960]},
 {dom:[967.52,1021.98],top:336.7,blue:blue2,red:red2,grey:grey2,ids:ids2,labels:[970,980,990,1000,1010,1020]},
 {dom:[1021.97,1077],top:666,blue:blue3,red:red3,grey:grey3,ids:ids3,labels:[1030,1040,1050,1060,1070]},
 {dom:[1076.97,1133],top:995.7,blue:blue4,red:red4,grey:grey4,ids:ids4,labels:[1080,1090,1100,1110,1120,1130]},
 {dom:[1132.98,1187],top:1325,blue:blue5,red:red5,grey:grey5,ids:ids5,labels:[1140,1150,1160,1170,1180]}
];
const yMax=1.79, inner=293, mL=91, mR=7, mT=8, mB=34;
const pts=f=>{const a=[];for(let i=0;i<f.length;i+=2)a.push({x:f[i],y:f[i+1]});a.sort((p,q)=>p.x-q.x);return a.filter((p,i)=>i===0||p.x>a[i-1].x);};
const chart=document.getElementById("chart");

function idSegments(ids){
  const s=[];
  for(const [t,x,feet,base,top,br,foot] of ids){
    if(br==null){
      const ft=feet[0];
      if(Math.abs(ft-x)<1e-6) s.push([x,top,x,foot]);
      else{const knee=foot+.06; s.push([x,top,ft,knee],[ft,knee,ft,foot]);}
    }else{
      const lo=d3.min(feet),hi=d3.max(feet);
      s.push([lo,br,hi,br]);
      for(const ft of feet) s.push([ft,br,ft,foot]);
      if(top>br) s.push([x,top,x,br]);
    }
  }
  return s.map(([x1,y1,x2,y2])=>({x1,y1,x2,y2}));
}

for(const p of panels){
  const [a,b]=p.dom, w=1372-mL-mR, perPx=(b-a)/w, fPx=yMax/inner;
  const minorX=d3.range(Math.ceil(a),b).filter(v=>v%10!==0), majorX=d3.range(Math.ceil(a/10)*10,b,10);
  const minorY=d3.range(1,18).map(v=>v/10).filter(v=>Math.round(v*10)%5!==0), majorY=[.5,1,1.5];
  const tickY=(vals,len)=>[Plot.ruleX(vals,{y1:0,y2:len*fPx,stroke:"#000",strokeWidth:1.4}),Plot.ruleX(vals,{y1:yMax,y2:yMax-len*fPx,stroke:"#000",strokeWidth:1.4})];
  const tickX=(vals,len)=>[Plot.ruleY(vals,{x1:a,x2:a+len*perPx,stroke:"#000",strokeWidth:1.4}),Plot.ruleY(vals,{x1:b,x2:b-len*perPx,stroke:"#000",strokeWidth:1.4})];
  const labels=p.ids.filter(d=>d[0]);
  const svg=Plot.plot({
    width:1372,height:mT+inner+mB,marginLeft:mL,marginRight:mR,marginTop:mT,marginBottom:mB,
    style:{fontFamily:"'Liberation Sans',Arial,sans-serif",fontSize:"22.5px",background:"transparent",overflow:"visible"},
    x:{domain:p.dom,axis:null},y:{domain:[0,yMax],axis:null},
    marks:[
      Plot.frame({fill:"#fffff6",stroke:"none"}),
      Plot.line(pts(p.grey),{x:"x",y:"y",stroke:"#b0b0b0",strokeWidth:1.2,clip:true}),
      Plot.line(pts(p.red),{x:"x",y:"y",stroke:"#ff3218",strokeWidth:3,curve:"monotone-x",clip:true}),
      Plot.line(pts(p.blue),{x:"x",y:"y",stroke:"#0a3cf0",strokeWidth:1.6,curve:"monotone-x",clip:true}),
      ...tickY(minorX,7),...tickY(majorX,14),...tickX(minorY,7.5),...tickX(majorY,15.5),
      Plot.link(idSegments(p.ids),{x1:"x1",y1:"y1",x2:"x2",y2:"y2",stroke:"#000",strokeWidth:1.8}),
      Plot.text(labels,{x:d=>d[1],y:d=>d[3]+.012,text:d=>d[0],rotate:-90,textAnchor:"start",lineAnchor:"middle",fontSize:16,fill:"#000"}),
      Plot.axisX({ticks:p.labels,tickSize:0,tickPadding:8,label:null,anchor:"bottom",tickFormat:d=>String(d)}),
      Plot.axisY({ticks:majorY,tickSize:0,tickPadding:19,label:null,anchor:"left",tickFormat:d=>d.toFixed(1)}),
      Plot.frame({stroke:"#000",strokeWidth:1.8})
    ]
  });
  svg.style.position="absolute";svg.style.left="0";svg.style.top=(p.top-mT)+"px";
  chart.appendChild(svg);
}

const yTitle=document.createElement("div");
yTitle.innerHTML='<i>f</i><sub style="font-size:15px">λ</sub>&nbsp; / 3.57•10<sup>-11</sup>&nbsp; erg cm<sup>-2</sup>&nbsp; sec<sup>-1</sup>&nbsp; Å<sup>-1</sup>';
yTitle.style.cssText="position:absolute;left:22px;top:812px;transform:translate(-50%,-50%) rotate(-90deg);white-space:nowrap;font-size:23px";
chart.appendChild(yTitle);
const xTitle=document.createElement("div");
xTitle.textContent="wavelength / Å";
xTitle.style.cssText="position:absolute;left:730px;top:1667px;transform:translate(-50%,-50%);white-space:nowrap;font-size:23.5px";
chart.appendChild(xTitle);
</script></body></html>
